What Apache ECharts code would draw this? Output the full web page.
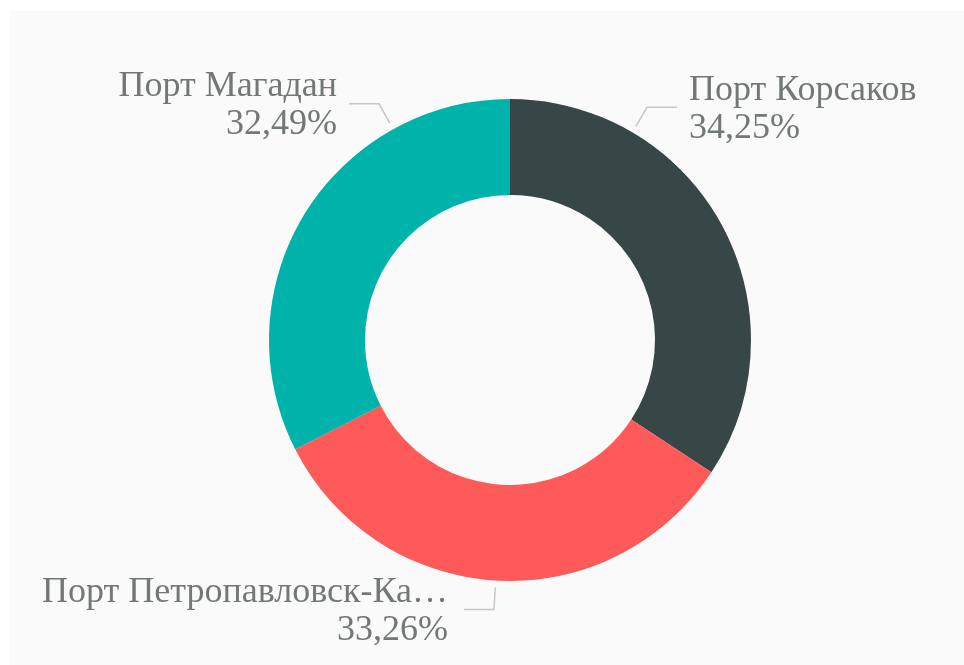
<!DOCTYPE html>
<html>
<head>
<meta charset="utf-8">
<script src="https://cdn.jsdelivr.net/npm/echarts@6/dist/echarts.min.js"></script>
<style>
  html, body { margin: 0; padding: 0; background: #fff; }
  #chart { position: absolute; left: 10px; top: 11px; width: 954px; height: 654px; background: #fafafa; }
</style>
</head>
<body>
<div id="chart"></div>
<script>
  // данные
  var ports = ['Порт Корсаков', 'Порт Петропавловск-Камчатский', 'Порт Магадан'];
  var shares = [34.25, 33.26, 32.49];
  var colors = ['#374646', '#ff5a5a', '#00b3aa'];

  // углы, под которыми выходят выноски подписей (градусы)
  var labelAngles = [59.5, -93.4, 119];

  var cx = 500, cy = 329, rOuter = 241;
  var labelFont = '36px "Liberation Serif"';
  var maxLabelWidth = 412;

  // обрезка длинных названий с многоточием (встроенная обрезка плохо считает кириллицу)
  var ctx = document.createElement('canvas').getContext('2d');
  function fitText(str) {
    ctx.font = labelFont;
    if (ctx.measureText(str).width <= maxLabelWidth) return str;
    var s = str;
    while (s.length > 1 && ctx.measureText(s + '…').width > maxLabelWidth) {
      s = s.slice(0, -1);
    }
    return s + '…';
  }

  var myChart = echarts.init(document.getElementById('chart'));

  var data = ports.map(function (name, i) {
    return { name: name, value: shares[i] };
  });

  myChart.setOption({
    color: colors,
    animation: false,
    series: [{
      type: 'pie',
      center: [cx, cy],
      radius: [145, rOuter],
      startAngle: 90,
      clockwise: true,
      data: data,
      label: {
        show: true,
        fontFamily: '"Liberation Serif", "DejaVu Serif", serif',
        fontSize: 36,
        lineHeight: 38,
        color: '#727777',
        formatter: function (p) {
          return fitText(p.name) + '\n' + p.value.toFixed(2).replace('.', ',') + '%';
        }
      },
      labelLine: {
        length: 22,
        length2: 30,
        lineStyle: { color: '#c6c6c6', width: 1.5 }
      },
      labelLayout: function (params) {
        var a = labelAngles[params.dataIndex] * Math.PI / 180;
        var cos = Math.cos(a), sin = -Math.sin(a);
        var r0 = rOuter + 7, r1 = r0 + 22;
        var dir = cos >= 0 ? 1 : -1;
        var p0 = [cx + r0 * cos, cy + r0 * sin];
        var p1 = [cx + r1 * cos, cy + r1 * sin];
        var p2 = [p1[0] + dir * 30, p1[1]];
        var gap = params.dataIndex === 1 ? 16 : 12;
        return {
          x: p2[0] + dir * gap,
          y: p2[1] + 2,
          align: dir > 0 ? 'left' : 'right',
          verticalAlign: 'middle',
          width: 600,
          labelLinePoints: [p0, p1, p2]
        };
      },
      itemStyle: { borderWidth: 0 }
    }]
  });
</script>
</body>
</html>
